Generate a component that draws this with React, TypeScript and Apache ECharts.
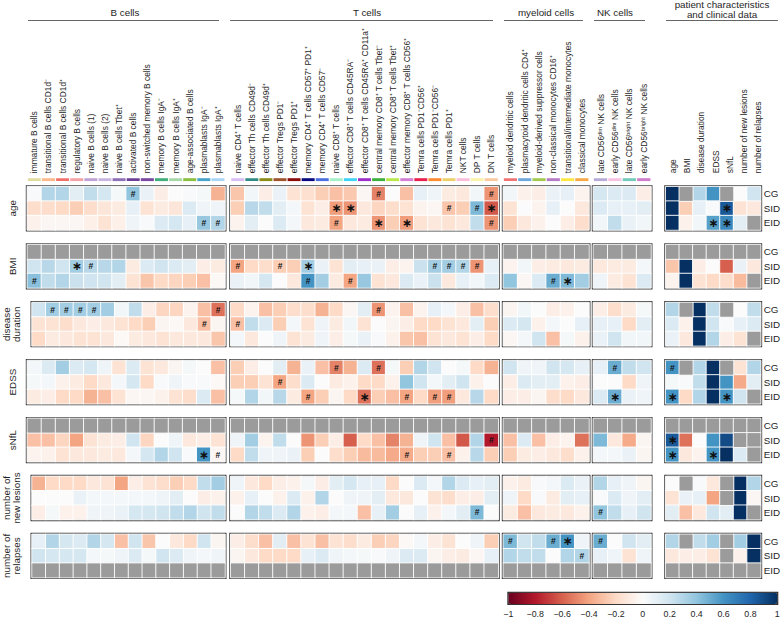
import React, { useEffect, useRef } from "react";
import * as echarts from "echarts";

const N = null;
const FONT = "'Liberation Sans', Arial, Helvetica, sans-serif";

const GROUPS = ["CG", "SID", "EID"];
const VARIABLES = ["age", "BMI", "disease\nduration", "EDSS", "sNfL", "number of\nnew lesions", "number of\nrelapses"];

const B_CELLS = [
  "immature B cells", "transitional B cells CD1d⁻", "transitional B cells CD1d⁺", "regulatory B cells",
  "naive B cells (1)", "naive B cells (2)", "naive B cells Tbet⁺", "activated B cells",
  "non-switched memory B cells", "memory B cells IgA⁻", "memory B cells IgA⁺", "age-associated B cells",
  "plasmablasts IgA⁻", "plasmablasts IgA⁺",
];
const B_COLORS = ["#e2dc9c", "#fbb98c", "#f2706a", "#f4a3a6", "#bfa3d6", "#c9b6e0", "#8f71b5", "#6b3f98", "#7a48a0", "#3fae7a", "#a8d8a8", "#8cbf3f", "#47a3c9", "#a9d6f5"];

const T_CELLS = [
  "naive CD4⁺ T cells", "effector Th cells CD49d⁻", "effector Th cells CD49d⁺", "effector Tregs PD1⁻",
  "effector Tregs PD1⁺", "memory CD4⁺ T cells CD57⁺ PD1⁺", "memory CD4⁺ T cells CD57⁻", "naive CD8⁺ T cells",
  "effector CD8⁺ T cells CD45RA⁻", "effector CD8⁺ T cells CD45RA⁺ CD11a⁺", "central memory CD8⁺ T cells Tbet⁻",
  "central memory CD8⁺ T cells Tbet⁺", "effector memory CD8⁺ T cells CD56⁺", "Temra cells PD1⁻CD56⁺",
  "Temra cells PD1⁻CD56⁻", "Temra cells PD1⁺", "NKT cells", "DP T cells", "DN T cells",
];
const T_COLORS = ["#d9bdf5", "#2e8b84", "#8a8c16", "#a0522d", "#8b0a0a", "#0a0a80", "#4a6fe0", "#a6f0c8", "#3fd3f5", "#9b2fc8", "#3cb03c", "#b8e84a", "#d47ed4", "#e8204c", "#ff8a30", "#ecd06a", "#f9bedc", "#fbf3a8", "#fbc9a0"];

const MYELOID_CELLS = [
  "myeloid dendritic cells", "plasmacytoid dendritic cells CD4⁺", "myeloid-derived suppressor cells",
  "non-classical monocytes CD16⁺", "transitional/intermediate monocytes", "classical monocytes",
];
const MYELOID_COLORS = ["#f07474", "#6fa8dc", "#a3c94f", "#b67cc7", "#fbe845", "#f8a948"];

const NK_CELLS = ["late CD56ᵈⁱᵐ NK cells", "early CD56ᵈⁱᵐ NK cells", "late CD56ᵇʳⁱᵍʰᵗ NK cells", "early CD56ᵇʳⁱᵍʰᵗ NK cells"];
const NK_COLORS = ["#b9acd9", "#f8c2e2", "#74cbb9", "#d07ccc"];

const PATIENT_VARS = ["age", "BMI", "disease duration", "EDSS", "sNfL", "number of new lesions", "number of relapses"];

// column order: B (14) | T (19) | myeloid (6) | NK (4) | patient (7)
const AGE_CG = [
  0.02, 0.3, 0.3, 0.12, 0.25, 0.18, 0.03, 0.4, 0.08, -0.08, 0.0, 0.02, 0.03, -0.35,
  -0.28, 0.05, -0.08, 0.08, -0.15, -0.17, -0.25, -0.3, -0.27, -0.03, -0.5, 0.0, -0.3, 0.1, 0.06, -0.1, -0.12, 0.05, -0.45,
  0.05, -0.06, -0.08, 0.08, 0.1, -0.05,
  0.18, 0.15, 0.15, -0.08,
  1, N, 0.3, 0.6, N, 0.0, 0.2,
];
const AGE_SID = [
  -0.18, -0.18, -0.2, -0.25, -0.18, -0.13, -0.1, 0.1, -0.15, -0.1, -0.13, 0.15, 0.06, 0.06,
  -0.25, 0.28, 0.25, 0.12, 0.04, -0.15, -0.08, -0.42, -0.45, -0.12, -0.22, -0.18, -0.15, -0.05, -0.03, -0.28, -0.25, 0.45, -0.62,
  -0.15, 0.0, -0.05, 0.1, 0.0, -0.12,
  0.15, 0.1, 0.1, 0.12,
  1, -0.25, 0.1, 0.02, 0.85, -0.15, -0.12,
];
const AGE_EID = [
  -0.06, -0.03, -0.03, -0.03, -0.07, -0.15, -0.07, 0.06, 0.02, 0.15, 0.18, 0.1, 0.38, 0.3,
  -0.05, 0.12, 0.0, 0.15, 0.04, -0.12, -0.1, -0.4, -0.12, -0.1, -0.45, -0.25, -0.42, -0.15, -0.12, -0.15, -0.12, 0.25, -0.45,
  -0.25, -0.12, -0.06, 0.0, -0.08, -0.18,
  0.05, 0.25, 0.08, 0.05,
  1, -0.06, 0.05, 0.55, 0.65, 0.12, N,
];

const BMI_CG = [
  N, N, N, N, N, N, N, N, N, N, N, N, N, N,
  N, N, N, N, N, N, N, N, N, N, N, N, N, N, N, N, N, N, N,
  N, N, N, N, N, N,
  N, N, N, N,
  N, N, N, N, N, N, N,
];
const BMI_SID = [
  0.2, 0.28, 0.2, 0.35, 0.28, 0.28, 0.3, -0.1, 0.15, 0.2, 0.15, 0.12, -0.08, -0.1,
  -0.4, -0.2, -0.18, -0.25, -0.25, 0.35, 0.08, -0.15, 0.12, 0.1, 0.08, -0.08, -0.05, 0.22, 0.35, 0.35, 0.3, -0.45, 0.1,
  -0.05, 0.05, -0.08, -0.1, -0.12, -0.1,
  -0.12, -0.1, -0.1, 0.04,
  -0.28, 1, -0.08, 0.0, -0.6, 0.08, -0.12,
];
const BMI_EID = [
  0.42, 0.25, 0.3, 0.22, 0.2, 0.2, 0.12, -0.15, -0.28, -0.2, -0.22, -0.25, -0.3, -0.02,
  0.08, 0.05, 0.18, 0.0, -0.12, 0.6, 0.35, -0.1, -0.4, 0.38, -0.15, -0.12, 0.15, 0.08, 0.22, -0.12, 0.1, 0.05, 0.15,
  0.4, -0.03, 0.15, 0.5, 0.45, 0.35,
  0.06, -0.1, -0.15, 0.15,
  -0.05, 1, -0.15, -0.2, -0.18, -0.32, N,
];

const DUR_CG = [
  0.2, 0.35, 0.35, 0.35, 0.35, 0.35, 0.05, 0.25, -0.08, -0.22, -0.22, -0.05, -0.3, -0.55,
  -0.2, -0.05, -0.3, -0.25, -0.18, -0.18, -0.35, -0.2, -0.03, 0.12, -0.45, -0.05, -0.3, -0.05, 0.1, 0.04, -0.08, -0.3, -0.18,
  -0.04, 0.05, 0.0, -0.08, -0.06, 0.0,
  -0.08, -0.18, -0.1, 0.03,
  0.3, N, 1, 0.25, N, 0.0, 0.25,
];
const DUR_SID = [
  -0.15, -0.15, -0.18, -0.12, -0.08, -0.12, -0.15, -0.2, -0.25, -0.04, -0.02, -0.12, -0.3, -0.04,
  -0.3, 0.25, 0.15, -0.25, 0.04, -0.15, 0.06, -0.1, 0.05, -0.15, 0.0, -0.04, -0.08, -0.2, -0.2, -0.15, -0.12, 0.12, -0.25,
  0.15, 0.18, -0.06, 0.04, 0.0, 0.1,
  0.1, 0.1, -0.2, 0.12,
  0.15, -0.06, 1, 0.2, 0.02, 0.1, 0.15,
];
const DUR_EID = [
  -0.2, -0.1, -0.12, -0.15, -0.15, -0.12, -0.02, -0.1, -0.12, -0.15, -0.12, -0.12, -0.12, -0.28,
  0.04, -0.12, 0.0, 0.06, -0.15, -0.1, 0.06, -0.08, 0.03, 0.08, 0.02, -0.06, -0.28, -0.3, -0.15, -0.12, -0.15, -0.08, -0.2,
  -0.03, 0.04, 0.2, -0.3, 0.03, -0.06,
  0.08, 0.2, 0.05, 0.05,
  0.08, -0.12, 1, 0.3, -0.08, -0.15, N,
];

const EDSS_CG = [
  0.04, 0.15, 0.35, 0.15, 0.18, 0.06, -0.15, 0.15, -0.15, -0.12, -0.04, 0.03, 0.0, -0.3,
  -0.25, -0.08, 0.0, 0.12, -0.35, 0.08, -0.3, -0.5, -0.35, 0.15, -0.55, 0.03, -0.25, 0.3, 0.2, 0.0, 0.03, -0.2, -0.35,
  0.2, 0.06, 0.06, 0.2, 0.18, 0.1,
  0.1, 0.5, 0.25, 0.2,
  0.6, N, 0.3, 1, N, -0.15, 0.3,
];
const EDSS_SID = [
  0.03, 0.04, -0.06, -0.1, -0.2, -0.12, 0.04, 0.18, -0.2, 0.02, 0.06, 0.02, 0.02, -0.02,
  -0.25, -0.25, -0.15, -0.4, -0.18, 0.15, 0.0, -0.1, -0.06, -0.2, -0.2, -0.06, 0.4, 0.2, 0.04, 0.12, 0.2, -0.06, 0.0,
  -0.08, 0.15, 0.12, 0.12, -0.06, -0.08,
  0.0, 0.0, -0.2, 0.06,
  0.03, 0.02, 0.25, 1, 0.6, -0.38, 0.12,
];
const EDSS_EID = [
  -0.1, -0.08, -0.2, -0.2, -0.35, -0.3, -0.15, -0.03, -0.03, -0.06, -0.15, -0.18, 0.15, -0.3,
  0.03, 0.3, 0.05, 0.28, -0.1, -0.4, -0.25, -0.04, -0.2, -0.55, -0.25, -0.3, -0.4, -0.2, -0.42, -0.42, -0.12, 0.28, -0.2,
  -0.08, -0.08, -0.04, -0.18, -0.2, -0.12,
  0.15, 0.5, 0.08, 0.06,
  0.6, -0.2, 0.3, 1, 0.6, 0.2, N,
];

const SNFL_CG = [
  N, N, N, N, N, N, N, N, N, N, N, N, N, N,
  N, N, N, N, N, N, N, N, N, N, N, N, N, N, N, N, N, N, N,
  N, N, N, N, N, N,
  N, N, N, N,
  N, N, N, N, N, N, N,
];
const SNFL_SID = [
  -0.3, -0.3, -0.22, -0.4, -0.15, -0.1, -0.08, 0.2, -0.22, 0.0, 0.06, -0.12, -0.08, -0.15,
  0.06, 0.35, -0.05, 0.25, 0.0, -0.45, -0.25, -0.08, -0.6, -0.2, -0.3, -0.5, -0.35, 0.06, 0.2, -0.3, -0.62, 0.3, -0.8,
  -0.3, 0.15, -0.3, -0.08, -0.05, -0.55,
  0.45, -0.12, -0.38, -0.04,
  0.85, -0.55, 0.0, 0.6, 0.9, N, N,
];
const SNFL_EID = [
  -0.05, -0.06, -0.15, -0.12, -0.12, -0.1, -0.12, 0.04, 0.18, 0.3, 0.2, 0.02, 0.6, -0.03,
  -0.2, 0.25, 0.06, 0.06, 0.08, -0.25, 0.0, -0.18, -0.25, -0.32, -0.32, -0.38, -0.38, -0.25, -0.25, -0.3, -0.06, 0.28, -0.25,
  -0.25, -0.1, -0.08, -0.12, -0.18, -0.06,
  0.04, 0.04, 0.08, -0.04,
  0.6, -0.12, -0.05, 0.6, 1, 0.15, N,
];

const LES_CG = [
  -0.35, -0.2, -0.2, -0.2, -0.12, -0.15, -0.4, -0.08, -0.15, -0.18, -0.25, -0.2, 0.25, 0.35,
  0.06, -0.12, -0.2, -0.08, -0.06, 0.03, -0.08, 0.12, 0.18, 0.1, 0.1, -0.2, 0.0, 0.15, 0.04, 0.3, 0.15, 0.1, 0.12,
  -0.06, -0.1, 0.02, 0.04, 0.15, 0.08,
  0.3, 0.1, 0.06, -0.04,
  0.0, N, 0.02, -0.12, N, 1, 0.3,
];
const LES_SID = [
  0.0, 0.0, 0.0, 0.08, 0.04, 0.04, 0.04, 0.04, 0.04, 0.06, 0.12, 0.0, -0.08, -0.06,
  -0.06, 0.1, 0.0, -0.06, 0.15, -0.06, 0.3, 0.0, 0.06, 0.06, 0.12, -0.12, -0.12, 0.0, -0.15, -0.18, -0.08, -0.08, 0.12,
  0.06, -0.2, 0.02, -0.1, 0.12, 0.1,
  0.02, 0.15, 0.06, 0.12,
  -0.15, 0.08, 0.1, -0.4, N, 1, -0.03,
];
const LES_EID = [
  -0.08, 0.03, -0.06, -0.06, 0.06, 0.06, 0.08, 0.18, 0.18, 0.2, 0.25, 0.3, 0.2, 0.25,
  0.0, 0.3, 0.25, 0.15, 0.3, -0.06, -0.08, 0.04, 0.04, -0.3, 0.1, 0.35, 0.0, 0.1, -0.06, 0.04, 0.12, 0.45, 0.0,
  -0.1, -0.3, -0.12, -0.1, -0.12, -0.06,
  0.4, 0.25, 0.1, 0.2,
  0.12, -0.3, -0.12, 0.2, 0.12, 1, N,
];

const REL_CG = [
  0.1, 0.3, 0.18, 0.15, 0.3, 0.18, -0.3, 0.2, -0.28, 0.0, -0.12, -0.2, 0.2, -0.04,
  -0.08, -0.18, -0.3, 0.12, -0.3, -0.15, -0.3, -0.15, -0.18, -0.1, -0.25, -0.22, -0.02, 0.04, -0.08, -0.15, 0.0, 0.06, -0.25,
  0.45, 0.2, 0.25, 0.5, 0.6, 0.06,
  0.5, 0.0, 0.2, 0.12,
  0.3, N, 0.25, 0.35, N, 0.35, 1,
];
const REL_SID = [
  0.2, 0.18, 0.18, 0.18, 0.04, 0.03, 0.06, 0.15, 0.03, 0.2, 0.15, 0.06, 0.04, 0.06,
  -0.04, -0.12, -0.2, -0.2, -0.2, 0.1, 0.15, 0.06, 0.04, 0.03, 0.02, 0.06, 0.15, 0.15, -0.04, -0.08, -0.1, -0.03, 0.1,
  0.3, 0.25, 0.25, 0.0, 0.3, 0.3,
  0.1, 0.06, -0.15, 0.06,
  -0.12, -0.08, -0.08, -0.15, N, -0.06, 1,
];
const REL_EID = [
  N, N, N, N, N, N, N, N, N, N, N, N, N, N,
  N, N, N, N, N, N, N, N, N, N, N, N, N, N, N, N, N, N, N,
  N, N, N, N, N, N,
  N, N, N, N,
  N, N, N, N, N, N, N,
];

// significance marks: [group, column, mark]
const AGE_MARKS = [["CG", 7, "#"], ["CG", 24, "#"], ["CG", 32, "#"], ["SID", 21, "*"], ["SID", 22, "*"], ["SID", 29, "#"], ["SID", 31, "#"], ["SID", 32, "*"], ["SID", 47, "*"], ["EID", 12, "#"], ["EID", 13, "#"], ["EID", 21, "#"], ["EID", 24, "*"], ["EID", 26, "*"], ["EID", 32, "#"], ["EID", 46, "*"], ["EID", 47, "*"]];
const BMI_MARKS = [["SID", 3, "*"], ["SID", 4, "#"], ["SID", 14, "#"], ["SID", 17, "#"], ["SID", 19, "*"], ["SID", 28, "#"], ["SID", 29, "#"], ["SID", 30, "#"], ["SID", 31, "#"], ["EID", 0, "#"], ["EID", 19, "#"], ["EID", 22, "#"], ["EID", 36, "#"], ["EID", 37, "*"]];
const DUR_MARKS = [["CG", 1, "#"], ["CG", 2, "#"], ["CG", 3, "#"], ["CG", 4, "#"], ["CG", 13, "#"], ["CG", 24, "#"], ["SID", 12, "#"], ["SID", 14, "#"]];
const EDSS_MARKS = [["CG", 21, "#"], ["CG", 24, "#"], ["CG", 40, "#"], ["CG", 43, "#"], ["SID", 17, "#"], ["EID", 19, "#"], ["EID", 23, "*"], ["EID", 26, "#"], ["EID", 28, "#"], ["EID", 29, "#"], ["EID", 40, "*"], ["EID", 43, "*"], ["EID", 47, "*"]];
const SNFL_MARKS = [["SID", 32, "#"], ["SID", 43, "*"], ["EID", 12, "*"], ["EID", 13, "#"], ["EID", 26, "#"], ["EID", 29, "#"], ["EID", 43, "*"], ["EID", 46, "*"]];
const LES_MARKS = [["EID", 31, "#"], ["EID", 39, "#"]];
const REL_MARKS = [["CG", 33, "#"], ["CG", 36, "#"], ["CG", 37, "*"], ["CG", 39, "#"], ["SID", 38, "#"]];

const COLORBAR_TICKS = [-1, -0.8, -0.6, -0.4, -0.2, 0, 0.2, 0.4, 0.6, 0.8, 1];
const RDBU = ["#67001f", "#b2182b", "#d6604d", "#f4a582", "#fddbc7", "#fbfbfb", "#d1e5f0", "#92c5de", "#4393c3", "#2166ac", "#053061"];
const MISSING_COLOR = "#9b9b9b";

const BLOCKS = [
  { rows: [AGE_CG, AGE_SID, AGE_EID], marks: AGE_MARKS },
  { rows: [BMI_CG, BMI_SID, BMI_EID], marks: BMI_MARKS },
  { rows: [DUR_CG, DUR_SID, DUR_EID], marks: DUR_MARKS },
  { rows: [EDSS_CG, EDSS_SID, EDSS_EID], marks: EDSS_MARKS },
  { rows: [SNFL_CG, SNFL_SID, SNFL_EID], marks: SNFL_MARKS },
  { rows: [LES_CG, LES_SID, LES_EID], marks: LES_MARKS },
  { rows: [REL_CG, REL_SID, REL_EID], marks: REL_MARKS },
];

const PANELS = [
  { title: "B cells", cols: B_CELLS, colors: B_COLORS, x0: 27.3, x1: 225, titleX: 125, line: [28, 219] },
  { title: "T cells", cols: T_CELLS, colors: T_COLORS, x0: 230.7, x1: 498.3, titleX: 367, line: [230, 493] },
  { title: "myeloid cells", cols: MYELOID_CELLS, colors: MYELOID_COLORS, x0: 503.3, x1: 589, titleX: 546, line: [504, 583] },
  { title: "NK cells", cols: NK_CELLS, colors: NK_COLORS, x0: 593.3, x1: 651, titleX: 615, line: [594, 645] },
  { title: "patient characteristics\nand clinical data", cols: PATIENT_VARS, colors: [] as string[], x0: 665.7, x1: 765.3, titleX: 722, line: [666, 778] },
];

const BLOCK_TOP = 186.7;
const BLOCK_STEP = 57.93;
const BLOCK_H = 43.3;
const STRIP_TOP = 178.2;
const STRIP_H = 2.9;
const TXT = "#1e1e1e";

function buildOption() {
  const grid: any[] = [];
  const xAxis: any[] = [];
  const yAxis: any[] = [];
  const series: any[] = [];
  const valueSeries: number[] = [];
  const missSeries: number[] = [];
  const graphic: any[] = [];

  PANELS.forEach((p) => {
    const gi = grid.length;
    grid.push({ left: p.x0, top: STRIP_TOP, width: p.x1 - p.x0, height: STRIP_H, show: false });
    xAxis.push({
      gridIndex: gi, type: "category", data: p.cols, position: "top",
      axisLine: { show: false }, axisTick: { show: false }, splitLine: { show: false },
      axisLabel: { rotate: 90, interval: 0, fontSize: 8.4, margin: 5, color: TXT, fontFamily: FONT },
    });
    yAxis.push({ gridIndex: gi, type: "value", min: 0, max: 1, show: false });
    series.push({
      type: "bar", xAxisIndex: gi, yAxisIndex: gi, barCategoryGap: "8%", silent: true,
      data: p.cols.map((_, i) => (p.colors[i] ? { value: 1, itemStyle: { color: p.colors[i] } } : "-")),
    });
    graphic.push({
      type: "text", x: p.titleX, y: p.title.includes("\n") ? 9.5 : 12,
      style: { text: p.title, fontSize: 9.8, fill: TXT, fontFamily: FONT, align: "center", verticalAlign: "middle", lineHeight: 10.5 },
    });
    graphic.push({
      type: "line", shape: { x1: p.line[0], y1: 20.5, x2: p.line[1], y2: 20.5 },
      style: { stroke: "#555", lineWidth: 0.9 },
    });
  });

  let offset0 = 0;
  const offsets = PANELS.map((p) => { const o = offset0; offset0 += p.cols.length; return o; });

  BLOCKS.forEach((blk, b) => {
    PANELS.forEach((p, pi) => {
      const gi = grid.length;
      grid.push({
        left: p.x0, top: BLOCK_TOP + b * BLOCK_STEP, width: p.x1 - p.x0, height: BLOCK_H,
        show: true, borderColor: "#3d3d3d", borderWidth: 3, backgroundColor: "transparent",
      });
      xAxis.push({ gridIndex: gi, type: "category", data: p.cols, show: false });
      yAxis.push({
        gridIndex: gi, type: "category", data: GROUPS, inverse: true,
        position: pi === 4 ? "right" : "left", show: pi === 0 || pi === 4,
        axisLine: { show: false }, axisTick: { show: false }, splitLine: { show: false },
        axisLabel: { show: pi === 4, fontSize: 9.8, margin: 3, color: TXT, fontFamily: FONT },
        name: pi === 0 ? VARIABLES[b] : "", nameLocation: "middle", nameRotate: 90, nameGap: 10,
        nameTextStyle: { fontSize: 9.8, lineHeight: 10.5, color: TXT, fontFamily: FONT, align: "center" },
      });
      const vals: any[] = [];
      const miss: any[] = [];
      blk.rows.forEach((row, g) => {
        p.cols.forEach((_, c) => {
          const col = offsets[pi] + c;
          const v = row[col];
          if (v === null || v === undefined) {
            miss.push([c, g, 0]);
          } else {
            const m = blk.marks.find((mk) => mk[0] === GROUPS[g] && mk[1] === col);
            const item: any = { value: [c, g, v] };
            if (m) {
              const star = m[2] === "*";
              item.label = {
                show: true, formatter: star ? "∗" : "#", color: "#111",
                fontSize: star ? 12 : 8.5, fontWeight: "bold",
                fontFamily: star ? "'DejaVu Sans', sans-serif" : FONT,
              };
            }
            vals.push(item);
          }
        });
      });
      valueSeries.push(series.length);
      series.push({
        type: "heatmap", xAxisIndex: gi, yAxisIndex: gi, data: vals, silent: true,
        itemStyle: { borderColor: "#ffffff", borderWidth: 0.9 },
      });
      missSeries.push(series.length);
      series.push({
        type: "heatmap", xAxisIndex: gi, yAxisIndex: gi, data: miss, silent: true,
        itemStyle: { borderColor: "#ffffff", borderWidth: 0.9 },
      });
    });
  });

  const cb = grid.length;
  grid.push({ left: 508.3, top: 592.7, width: 269, height: 11.3, show: true, borderColor: "#333", borderWidth: 2, backgroundColor: "transparent" });
  xAxis.push({
    gridIndex: cb, type: "value", min: COLORBAR_TICKS[0], max: COLORBAR_TICKS[COLORBAR_TICKS.length - 1], interval: 0.2,
    axisLine: { show: false }, axisTick: { show: false }, splitLine: { show: false },
    axisLabel: {
      fontSize: 8.8, margin: 5, color: TXT, fontFamily: FONT,
      formatter: (v: number) => {
        const r = Math.round(v * 10) / 10;
        if (r === 0) return "0";
        return (r < 0 ? "−" : "") + String(Math.abs(r));
      },
    },
  });
  yAxis.push({ gridIndex: cb, type: "value", show: false, min: 0, max: 1 });
  series.push({ type: "scatter", xAxisIndex: cb, yAxisIndex: cb, data: [], silent: true });

  return {
    animation: false,
    backgroundColor: "#ffffff",
    textStyle: { fontFamily: FONT },
    grid, xAxis, yAxis, series, graphic,
    visualMap: [
      {
        type: "continuous", min: -1, max: 1, orient: "horizontal", dimension: 2,
        seriesIndex: valueSeries, calculable: false, padding: 0,
        left: 508.3, top: 592.7, itemWidth: 11.3, itemHeight: 269,
        inRange: { color: RDBU }, z: 1,
      },
      {
        type: "continuous", show: false, min: -1, max: 1, dimension: 2,
        seriesIndex: missSeries, inRange: { color: [MISSING_COLOR, MISSING_COLOR] },
      },
    ],
  };
}

export default function App() {
  const ref = useRef<HTMLDivElement>(null);
  useEffect(() => {
    const chart = echarts.init(ref.current!, null, { renderer: "svg" });
    chart.setOption(buildOption() as any);
    return () => chart.dispose();
  }, []);
  return (
    <div
      ref={ref}
      style={{ position: "fixed", left: 0, top: 0, width: 783, height: 618, background: "#fff" }}
    />
  );
}
